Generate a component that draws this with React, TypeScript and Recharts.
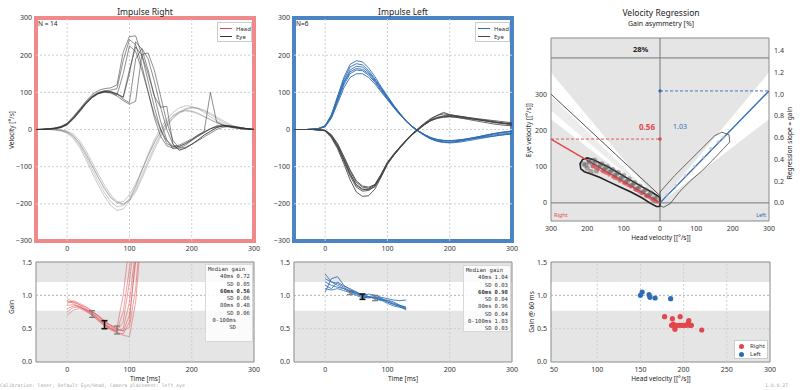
import React from "react";
import {
  Area,
  ComposedChart,
  ErrorBar,
  Line,
  ReferenceArea,
  ReferenceLine,
  Scatter,
  XAxis,
  YAxis,
} from "recharts";

const FONT = '"Noto Sans", "Open Sans", sans-serif';
const MONO = '"DejaVu Sans Mono", monospace';
const RED = "#e2474b";
const BLUE = "#2e6cb4";
const BG = "#e5e5e5";
const GRID = "#cfcfcf";
const FRAME = "#8a8a8a";

// time axis of the impulse traces [ms]
const timeMs = [-50, -40, -30, -20, -10, 0, 10, 20, 30, 40, 50, 60, 70, 80, 90, 100, 110, 120, 130, 140, 150, 160, 170, 180, 190, 200, 210, 220, 230, 240, 250, 260, 270, 280, 290, 300];

// impulse right: head (negative) and eye velocity [deg/s]
const rightHead = [
  [0, 0, 0, 0, -2, -6, -16, -36, -64, -96, -128, -158, -182, -196, -194, -176, -146, -108, -70, -35, -5, 20, 38, 48, 52, 50, 44, 36, 27, 19, 12, 7, 4, 2, 1, 0],
  [0, 0, 0, -1, -3, -8, -20, -42, -72, -106, -140, -170, -194, -208, -205, -186, -152, -112, -72, -36, -6, 18, 36, 46, 50, 48, 42, 34, 26, 18, 11, 6, 3, 1, 0, 0],
  [0, 0, 0, 0, -1, -4, -12, -30, -56, -88, -120, -150, -176, -194, -200, -192, -168, -132, -92, -54, -20, 8, 30, 44, 54, 58, 56, 50, 40, 30, 20, 12, 6, 3, 1, 0],
  [0, 0, 0, -1, -4, -10, -24, -48, -80, -116, -150, -180, -204, -218, -214, -192, -154, -110, -66, -28, 4, 28, 46, 58, 64, 62, 56, 46, 34, 24, 15, 8, 4, 2, 0, 0],
  [0, 0, 0, 0, -2, -7, -18, -38, -66, -98, -130, -160, -184, -198, -202, -190, -162, -124, -84, -46, -14, 12, 32, 46, 56, 60, 58, 52, 44, 34, 24, 15, 8, 4, 2, 0],
];
const rightEye = [
  [0, 1, 2, 4, 8, 15, 32, 52, 72, 88, 98, 104, 106, 110, 185, 242, 228, 172, 102, 32, -18, -44, -50, -46, -38, -28, -18, -8, 2, 8, 10, 9, 7, 4, 2, 0],
  [0, 0, 1, 3, 6, 14, 30, 50, 70, 86, 97, 102, 102, 96, 86, 150, 236, 216, 160, 90, 22, -28, -52, -50, -42, -30, -18, -8, 2, 10, 12, 10, 7, 4, 2, 0],
  [0, 1, 2, 3, 7, 16, 33, 53, 73, 90, 100, 104, 102, 96, 82, 72, 190, 218, 190, 130, 60, 0, -40, -56, -50, -40, -28, -15, -5, 5, 10, 10, 8, 5, 2, 0],
  [0, 0, 1, 2, 5, 12, 28, 47, 68, 85, 96, 100, 98, 90, 78, 68, 76, 202, 206, 160, 90, 20, -30, -50, -48, -40, -30, -20, -10, 0, 6, 8, 6, 4, 2, 0],
  [0, 1, 2, 4, 8, 17, 35, 55, 76, 94, 105, 110, 112, 120, 208, 250, 252, 200, 130, 60, 0, -38, -46, -42, -34, -25, -15, -6, 2, 7, 9, 8, 6, 4, 2, 0],
  [0, 0, 1, 3, 6, 14, 30, 50, 70, 88, 98, 102, 100, 92, 150, 225, 210, 160, 100, 40, 0, -30, -45, -45, -38, -28, -15, -5, 100, 20, 12, 8, 5, 2, 1, 0],
  [0, 0, 1, 2, 5, 13, 29, 49, 70, 87, 97, 101, 100, 95, 88, 160, 222, 200, 150, 90, 60, 62, -40, -55, -50, -40, -28, -15, -5, 5, 10, 8, 5, 2, 1, 0],
];

// impulse left: head (positive) and eye velocity [deg/s]
const leftHead = [
  [0, 0, 0, 1, 3, 10, 40, 90, 140, 175, 185, 182, 165, 142, 115, 90, 66, 44, 24, 8, -4, -15, -24, -30, -33, -34, -33, -30, -27, -24, -20, -16, -12, -9, -6, -4],
  [0, 0, 0, 1, 3, 9, 36, 82, 128, 160, 170, 168, 154, 133, 110, 86, 63, 42, 23, 8, -4, -14, -22, -27, -30, -30, -29, -27, -24, -21, -18, -15, -12, -10, -8, -6],
  [0, 0, 0, 1, 2, 8, 33, 76, 120, 150, 160, 158, 146, 127, 104, 82, 60, 40, 22, 7, -5, -15, -23, -28, -30, -31, -30, -28, -26, -24, -22, -20, -18, -16, -14, -12],
  [0, 0, 0, 1, 2, 7, 30, 70, 112, 140, 150, 150, 140, 122, 101, 80, 59, 40, 22, 8, -4, -14, -22, -27, -29, -30, -29, -27, -25, -22, -20, -18, -15, -13, -11, -10],
  [0, 0, 0, 1, 3, 9, 35, 80, 125, 155, 164, 162, 150, 130, 107, 84, 62, 41, 22, 6, -6, -17, -26, -32, -35, -36, -35, -33, -30, -27, -24, -21, -18, -15, -13, -11],
  [0, 0, 0, 1, 3, 10, 38, 86, 134, 168, 177, 174, 158, 136, 112, 88, 64, 43, 23, 7, -5, -16, -25, -31, -34, -35, -33, -30, -26, -22, -18, -14, -11, -8, -6, -5],
];
const leftEye = [
  [0, 0, 0, 0, -1, -3, -18, -45, -82, -120, -148, -160, -162, -154, -125, -92, -70, -50, -31, -14, 0, 13, 24, 31, 35, 36, 35, 33, 30, 28, 26, 24, 21, 18, 16, 14],
  [0, 0, 0, 0, -1, -2, -15, -40, -76, -112, -142, -155, -158, -150, -122, -90, -68, -48, -30, -13, 2, 16, 28, 38, 46, 40, 37, 34, 31, 28, 25, 22, 19, 17, 15, 13],
  [0, 0, 0, 0, -1, -4, -22, -52, -92, -135, -168, -180, -178, -160, -128, -94, -70, -50, -31, -14, 1, 14, 26, 33, 37, 38, 36, 34, 32, 30, 28, 26, 24, 22, 20, 18],
  [0, 0, 0, 0, -1, -2, -14, -38, -72, -108, -138, -152, -155, -148, -120, -88, -66, -47, -29, -12, 2, 15, 25, 31, 34, 35, 33, 30, 27, 24, 21, 18, 15, 13, 11, 10],
  [0, 0, 0, 0, -1, -3, -20, -48, -86, -125, -155, -166, -164, -152, -124, -91, -69, -49, -30, -13, 1, 14, 24, 30, 33, 34, 33, 31, 29, 27, 25, 23, 21, 19, 17, 15],
  [0, 0, 0, 0, -1, -3, -17, -44, -80, -118, -150, -162, -160, -148, -121, -89, -67, -47, -28, -11, 4, 18, 30, 38, 42, 40, 37, 35, 32, 29, 26, 23, 20, 18, 16, 14],
];

// gain traces
const gainTimeRight = [0, 10, 20, 30, 40, 50, 60, 70, 80, 90, 100, 110, 120];
const gainRight = [
  [0.95, 0.9, 0.86, 0.8, 0.74, 0.66, 0.58, 0.52, 0.48, 0.75, 1.4, 2.2, 3.0],
  [0.8, 0.84, 0.84, 0.78, 0.72, 0.64, 0.56, 0.5, 0.46, 0.5, 0.9, 1.7, 2.6],
  [0.7, 0.78, 0.8, 0.76, 0.7, 0.62, 0.55, 0.5, 0.44, 0.42, 0.6, 1.6, 2.4],
  [0.9, 0.9, 0.86, 0.82, 0.76, 0.68, 0.6, 0.55, 0.52, 1.0, 1.8, 2.5, 3.0],
  [0.75, 0.82, 0.82, 0.77, 0.71, 0.62, 0.54, 0.48, 0.44, 0.4, 0.38, 0.9, 2.0],
  [0.85, 0.86, 0.83, 0.79, 0.73, 0.65, 0.57, 0.5, 0.47, 0.6, 1.2, 2.0, 2.8],
  [0.92, 0.88, 0.82, 0.78, 0.75, 0.7, 0.62, 0.55, 0.5, 0.46, 0.7, 1.5, 2.4],
  [0.88, 0.92, 0.88, 0.83, 0.77, 0.69, 0.61, 0.54, 0.49, 0.47, 0.52, 1.1, 2.2],
];
const gainTimeLeft = [0, 10, 20, 30, 40, 50, 60, 70, 80, 90, 100, 110, 120, 130];
const gainLeft = [
  [1.32, 1.2, 1.18, 1.12, 1.06, 1.02, 0.99, 0.97, 0.96, 0.94, 0.9, 0.86, 0.84, 0.8],
  [1.05, 1.25, 1.28, 1.15, 1.08, 1.04, 1.0, 0.98, 0.97, 0.95, 0.92, 0.88, 0.85, 0.82],
  [1.2, 1.15, 1.12, 1.1, 1.05, 1.03, 0.97, 0.96, 0.98, 0.96, 0.9, 0.87, 0.83, 0.78],
  [1.1, 1.08, 1.1, 1.07, 1.04, 1.0, 0.96, 0.98, 0.95, 0.92, 0.93, 0.9, 0.85, 0.82],
  [1.25, 1.2, 1.15, 1.1, 1.06, 1.05, 1.0, 1.02, 1.0, 0.97, 0.95, 0.93, 0.92, 0.93],
  [1.15, 1.1, 1.2, 1.14, 1.1, 1.05, 1.0, 0.98, 0.96, 0.93, 0.88, 0.84, 0.82, 0.8],
];
const sampleTimes = [40, 60, 80];
const medianRight = [0.72, 0.56, 0.48];
const sdRight = [0.05, 0.06, 0.06];
const medianLeft = [1.04, 0.98, 0.96];
const sdLeft = [0.03, 0.04, 0.04];
const normGain = [0.77, 1.2];

// velocity regression
const slopeRight = 0.587;
const slopeLeft = 1.03;
const asymmetry = -28;
const refLineX = [-300, 0];
const refLineY = [300, 20];
const contourRightX = [0, 0, -20, -50, -80, -110, -140, -165, -185, -200, -213, -220, -218, -208, -190, -165, -140, -110, -80, -50, -25, -10, 0];
const contourRightY = [-10, 15, 28, 45, 62, 80, 98, 110, 120, 124, 120, 108, 94, 86, 80, 70, 58, 44, 30, 14, -2, -10, -10];
const contourLeftX = [0, 0, 40, 80, 120, 150, 170, 190, 192, 175, 145, 115, 85, 55, 28, 10, 0];
const contourLeftY = [-8, 30, 75, 115, 155, 185, 195, 188, 168, 150, 118, 88, 62, 32, -2, -12, -8];
const cloudGrayX = [-15, -30, -45, -60, -75, -90, -105, -120, -135, -150, -165, -180, -195, -205, -200, -185, -170, -155, -140, -125, -110, -95, -80, -65, -50, -35, -20, -210, -195, -180, -160, -145, -130, -115, -100, -85, -70, -55, -40, -25, -10, -175, -190];
const cloudGrayY = [14, 22, 32, 40, 50, 60, 70, 78, 88, 96, 104, 110, 112, 104, 96, 104, 98, 92, 84, 76, 66, 58, 48, 38, 28, 20, 10, 108, 116, 118, 108, 100, 92, 84, 76, 66, 56, 46, 36, 26, 12, 88, 86];
const cloudRedX = [-8, -20, -35, -50, -65, -80, -95, -110, -125, -140, -155, -170, -185, -15, -40, -70, -100, -130, -160, -28, -58, -88, -118, -148, -178];
const cloudRedY = [3, 10, 18, 27, 35, 44, 52, 60, 68, 77, 85, 92, 100, 5, 20, 38, 55, 72, 88, 14, 31, 48, 66, 82, 97];
const cloudLeftX = [20, 45, 70, 95, 120, 140, 160, 175];
const cloudLeftY = [22, 48, 75, 100, 125, 150, 168, 180];

// gain @ 60 ms vs head velocity
const scatterRightVel = [178, 187, 196, 186, 188, 190, 190, 192, 195, 198, 200, 203, 205, 206, 207, 209, 221];
const scatterRightGain = [0.68, 0.65, 0.68, 0.55, 0.57, 0.52, 0.49, 0.55, 0.55, 0.55, 0.55, 0.55, 0.58, 0.62, 0.55, 0.55, 0.48];
const scatterLeftVel = [150, 152, 160, 161, 167, 185];
const scatterLeftGain = [1.0, 1.05, 1.01, 0.97, 0.96, 0.95];

const tableRight = [
  ["40ms", "0.72"], ["SD", "0.05"], ["60ms", "0.56"], ["SD", "0.06"], ["80ms", "0.48"], ["SD", "0.06"], ["0-100ms", ""], ["SD", ""],
];
const tableLeft = [
  ["40ms", "1.04"], ["SD", "0.03"], ["60ms", "0.98"], ["SD", "0.04"], ["80ms", "0.96"], ["SD", "0.04"], ["0-100ms", "1.03"], ["SD", "0.03"],
];

function toRows(xs: number[], series: number[][], prefix: string, rows: any[] = []) {
  xs.forEach((x, i) => {
    const r = rows[i] || { t: x };
    series.forEach((s, k) => (r[prefix + k] = s[i]));
    rows[i] = r;
  });
  return rows;
}
const pairs = (xs: number[], ys: number[]) => xs.map((x, i) => ({ x, y: ys[i] }));

const tick = { fontSize: 7, fill: "#333", fontFamily: FONT };
const minus = (v: number) => String(v).replace("-", "\u2212");

function Txt({ x, y, children, size = 7, color = "#222", anchor = "middle", rotate = 0, weight = 400, family = FONT }: any) {
  const tx = anchor === "middle" ? "-50%" : anchor === "end" ? "-100%" : "0";
  return (
    <div
      style={{
        position: "absolute", left: x, top: y, transform: `translate(${tx}, -50%) rotate(${rotate}deg)`,
        fontSize: size, color, fontWeight: weight, fontFamily: family, whiteSpace: "nowrap", lineHeight: 1,
      }}
    >
      {children}
    </div>
  );
}

function LineLegend({ left, items }: { left: number; items: [string, string][] }) {
  return (
    <div style={{ position: "absolute", left, top: 22, width: 35, height: 20, background: "#fff", border: "1px solid #ccc", boxSizing: "border-box", fontFamily: FONT, fontSize: 6 }}>
      {items.map(([label, color], i) => (
        <div key={label} style={{ position: "absolute", left: 2, top: 2 + i * 8, display: "flex", alignItems: "center", height: 7 }}>
          <div style={{ width: 12, height: 1, background: color, marginRight: 4 }} />
          <span style={{ color: "#333" }}>{label}</span>
        </div>
      ))}
    </div>
  );
}

function MedianTable({ left, top, height, rows }: { left: number; top: number; height: number; rows: string[][] }) {
  return (
    <div style={{ position: "absolute", left, top, width: 48, height, background: "rgba(255,255,255,0.85)", border: "1px solid #d8d8d8", boxSizing: "border-box", fontFamily: MONO, fontSize: 5.6, color: "#333", lineHeight: "7.3px", padding: "1px 2px" }}>
      <div>Median gain</div>
      {rows.map(([a, b], i) => (
        <div key={i} style={{ display: "flex", fontWeight: a === "60ms" ? 700 : 400 }}>
          <span style={{ width: 28, textAlign: "right" }}>{a}</span>
          <span style={{ marginLeft: 3 }}>{b}</span>
        </div>
      ))}
    </div>
  );
}

function ImpulsePanel({ left, rows, nHead, nEye, headColor, headOpacity, eyeColor, eyeOpacity, border }: any) {
  return (
    <div style={{ position: "absolute", left, top: 0 }}>
      <ComposedChart width={262} height={253} data={rows} margin={{ top: 18, right: 8, bottom: 0, left: 0 }}>
        <XAxis dataKey="t" type="number" domain={[-50, 300]} ticks={[0, 100, 200, 300]} allowDataOverflow axisLine={false} tickLine={false} tick={tick} tickSize={3} tickMargin={2} height={12} interval={0} />
        <YAxis type="number" domain={[-300, 300]} ticks={[-300, -200, -100, 0, 100, 200, 300]} allowDataOverflow axisLine={false} tickLine={false} tick={tick} tickFormatter={minus} width={36} tickSize={3} tickMargin={1} interval={0} />
        {[0, 100, 200].map((v) => <ReferenceLine key={"gx" + v} x={v} stroke={GRID} strokeDasharray="2 2" />)}
        {[-200, -100, 0, 100, 200].map((v) => <ReferenceLine key={"gy" + v} y={v} stroke={GRID} strokeDasharray="2 2" />)}
        {Array.from({ length: nHead }, (_, k) => (
          <Line key={"h" + k} dataKey={"h" + k} type="linear" stroke={headColor} strokeOpacity={headOpacity} strokeWidth={1} dot={false} isAnimationActive={false} />
        ))}
        {Array.from({ length: nEye }, (_, k) => (
          <Line key={"e" + k} dataKey={"e" + k} type="linear" stroke={eyeColor} strokeOpacity={eyeOpacity} strokeWidth={1} dot={false} isAnimationActive={false} />
        ))}
        <ReferenceArea x1={-50} x2={300} y1={-300} y2={300} fill="none" stroke={border} strokeWidth={4} />
      </ComposedChart>
    </div>
  );
}

function GainPanel({ left, rows, n, color, opacity, medians, sds }: any) {
  const bars = sampleTimes.map((t, i) => ({ t, y: medians[i], err: sds[i] }));
  return (
    <div style={{ position: "absolute", left, top: 258 }}>
      <ComposedChart width={262} height={116} data={rows} margin={{ top: 4, right: 8, bottom: 0, left: 0 }}>
        <XAxis dataKey="t" type="number" domain={[-50, 300]} ticks={[0, 100, 200, 300]} allowDataOverflow axisLine={false} tickLine={false} tick={tick} tickSize={3} tickMargin={2} height={12} interval={0} />
        <YAxis type="number" domain={[0, 1.5]} ticks={[0, 0.5, 1, 1.5]} allowDataOverflow axisLine={false} tickLine={false} tick={tick} tickFormatter={(v: number) => v.toFixed(1)} width={36} tickSize={3} tickMargin={1} interval={0} />
        <ReferenceArea y1={0} y2={normGain[0]} fill={BG} fillOpacity={1} stroke="none" />
        <ReferenceArea y1={normGain[1]} y2={1.5} fill={BG} fillOpacity={1} stroke="none" />
        {[0, 100, 200].map((v) => <ReferenceLine key={"gx" + v} x={v} stroke={GRID} strokeDasharray="2 2" />)}
        <ReferenceLine y={0.5} stroke={GRID} strokeDasharray="2 2" />
        <ReferenceLine y={1} stroke="#b0b0b0" strokeDasharray="2 2" />
        {Array.from({ length: n }, (_, k) => (
          <Line key={"g" + k} dataKey={"g" + k} type="linear" stroke={color} strokeOpacity={opacity} strokeWidth={1} dot={false} isAnimationActive={false} />
        ))}
        {bars.map((b, i) => (
          <Scatter key={"eb" + i} data={[b]} dataKey="y" shape={() => <g />} isAnimationActive={false}>
            <ErrorBar dataKey="err" direction="y" width={3} stroke={i === 1 ? "#111" : "#777"} strokeWidth={i === 1 ? 1.6 : 1.2} />
          </Scatter>
        ))}
        <ReferenceArea x1={-50} x2={300} y1={0} y2={1.5} fill="none" stroke={FRAME} strokeWidth={1} />
      </ComposedChart>
    </div>
  );
}

function RegressionPanel() {
  const wedgeRight = [
    { x: -300, range: [300 * normGain[0], 300 * normGain[1]] },
    { x: 0, range: [0, 0] },
  ];
  const wedgeRightInner = [
    { x: -300, range: [255, 295] },
    { x: 0, range: [0, 0] },
  ];
  const wedgeLeft = [
    { x: 0, range: [0, 0] },
    { x: 300, range: [300 * normGain[0], 300 * normGain[1]] },
  ];
  const fitRight = pairs([0, -300], [0, 300 * slopeRight]);
  const fitLeft = pairs([0, 300], [0, 300 * slopeLeft]);
  return (
    <div style={{ position: "absolute", left: 521, top: 0 }}>
      <ComposedChart width={273} height={233} margin={{ top: 24, right: 0, bottom: 0, left: 0 }}>
        <XAxis dataKey="x" type="number" domain={[-300, 300]} ticks={[-300, -200, -100, 0, 100, 200, 300]} allowDataOverflow axisLine={false} tickLine={false} tick={tick} tickFormatter={(v: number) => String(Math.abs(v))} tickSize={3} tickMargin={2} height={12} interval={0} />
        <XAxis xAxisId="a" orientation="top" type="number" domain={[-100, 100]} ticks={[-100, -75, -50, -25, 0, 25, 50, 75, 100]} allowDataOverflow axisLine={false} tickLine={false} tick={tick} tickFormatter={minus} tickSize={3} tickMargin={2} height={14} interval={0} />
        <YAxis type="number" domain={[-50, 455]} ticks={[0, 100, 200, 300]} allowDataOverflow axisLine={false} tickLine={false} tick={tick} width={30} tickSize={3} tickMargin={1} interval={0} />
        <YAxis yAxisId="g" orientation="right" type="number" domain={[-50 / 300, 455 / 300]} ticks={[0, 0.2, 0.4, 0.6, 0.8, 1.0, 1.2, 1.4]} allowDataOverflow axisLine={false} tickLine={false} tick={tick} tickFormatter={(v: number) => v.toFixed(1)} width={25} tickSize={3} tickMargin={2} interval={0} />
        <ReferenceArea x1={-300} x2={300} y1={-50} y2={455} fill={BG} fillOpacity={1} stroke="none" />
        <Area data={wedgeRight} dataKey="range" type="linear" stroke="none" fill="#fff" fillOpacity={1} isAnimationActive={false} />
        <Area data={wedgeRightInner} dataKey="range" type="linear" stroke="none" fill="#ececec" fillOpacity={1} isAnimationActive={false} />
        <Area data={wedgeLeft} dataKey="range" type="linear" stroke="none" fill="#fff" fillOpacity={1} isAnimationActive={false} />
        <ReferenceLine x={0} stroke="#777" />
        <ReferenceLine y={0} stroke="#777" />
        <ReferenceLine y={400} stroke="#777" />
        <ReferenceLine xAxisId="a" segment={[{ x: asymmetry, y: 400 }, { x: asymmetry, y: 455 }]} stroke="#222" strokeWidth={2} />
        <Line data={pairs(refLineX, refLineY)} dataKey="y" type="linear" stroke="#555" strokeWidth={1} dot={false} isAnimationActive={false} />
        <Scatter data={pairs(cloudGrayX, cloudGrayY)} dataKey="y" shape={(p: any) => <circle cx={p.cx} cy={p.cy} r={2.6} fill="#555" fillOpacity={0.45} />} isAnimationActive={false} />
        <Scatter data={pairs(cloudLeftX, cloudLeftY)} dataKey="y" shape={(p: any) => <circle cx={p.cx} cy={p.cy} r={1.8} fill="#bbb" fillOpacity={0.6} />} isAnimationActive={false} />
        <Line data={pairs(contourRightX, contourRightY)} dataKey="y" type="linear" stroke="#222" strokeWidth={1.6} dot={false} isAnimationActive={false} />
        <Line data={pairs(contourLeftX, contourLeftY)} dataKey="y" type="linear" stroke="#444" strokeWidth={0.8} dot={false} isAnimationActive={false} />
        <Scatter data={pairs(cloudRedX, cloudRedY)} dataKey="y" shape={(p: any) => <circle cx={p.cx} cy={p.cy} r={1.8} fill={RED} fillOpacity={0.7} />} isAnimationActive={false} />
        <ReferenceLine segment={[{ x: -300, y: 300 * slopeRight }, { x: 0, y: 300 * slopeRight }]} stroke={RED} strokeDasharray="3 2" strokeWidth={0.9} />
        <ReferenceLine segment={[{ x: 0, y: 300 * slopeLeft }, { x: 300, y: 300 * slopeLeft }]} stroke={BLUE} strokeDasharray="3 2" strokeWidth={0.9} />
        <Line data={fitRight} dataKey="y" type="linear" stroke={RED} strokeWidth={1.4} dot={false} isAnimationActive={false} />
        <Line data={fitLeft} dataKey="y" type="linear" stroke={BLUE} strokeWidth={1.4} dot={false} isAnimationActive={false} />
        <Scatter data={[{ x: 0, y: 300 * slopeRight }]} dataKey="y" shape={(p: any) => <circle cx={p.cx} cy={p.cy} r={1.8} fill={RED} />} isAnimationActive={false} />
        <Scatter data={[{ x: 0, y: 300 * slopeLeft }]} dataKey="y" shape={(p: any) => <circle cx={p.cx} cy={p.cy} r={1.6} fill={BLUE} />} isAnimationActive={false} />
        <ReferenceArea x1={-300} x2={300} y1={-50} y2={455} fill="none" stroke={FRAME} strokeWidth={1} />
      </ComposedChart>
    </div>
  );
}

function ScatterPanel() {
  return (
    <div style={{ position: "absolute", left: 521, top: 258 }}>
      <ComposedChart width={262} height={116} margin={{ top: 4, right: 13, bottom: 0, left: 0 }}>
        <XAxis dataKey="x" type="number" domain={[46.5, 300]} ticks={[50, 100, 150, 200, 250, 300]} allowDataOverflow axisLine={false} tickLine={false} tick={tick} tickSize={3} tickMargin={2} height={12} interval={0} />
        <YAxis type="number" domain={[0, 1.5]} ticks={[0, 0.5, 1, 1.5]} allowDataOverflow axisLine={false} tickLine={false} tick={tick} tickFormatter={(v: number) => v.toFixed(1)} width={30} tickSize={3} tickMargin={1} interval={0} />
        <ReferenceArea y1={0} y2={normGain[0]} fill={BG} fillOpacity={1} stroke="none" />
        <ReferenceArea y1={normGain[1]} y2={1.5} fill={BG} fillOpacity={1} stroke="none" />
        {[100, 150, 200, 250].map((v) => <ReferenceLine key={"gx" + v} x={v} stroke={GRID} strokeDasharray="2 2" />)}
        <ReferenceLine y={0.5} stroke={GRID} strokeDasharray="2 2" />
        <ReferenceLine y={1} stroke="#b0b0b0" strokeDasharray="2 2" />
        <Scatter name="Right" data={pairs(scatterRightVel, scatterRightGain)} dataKey="y" shape={(p: any) => <circle cx={p.cx} cy={p.cy} r={2.6} fill={RED} />} isAnimationActive={false} />
        <Scatter name="Left" data={pairs(scatterLeftVel, scatterLeftGain)} dataKey="y" shape={(p: any) => <circle cx={p.cx} cy={p.cy} r={2.6} fill={BLUE} />} isAnimationActive={false} />
        <ReferenceArea x1={46.5} x2={300} y1={0} y2={1.5} fill="none" stroke={FRAME} strokeWidth={1} />
      </ComposedChart>
    </div>
  );
}

export default function App() {
  const rightRows = toRows(timeMs, rightEye, "e", toRows(timeMs, rightHead, "h"));
  const leftRows = toRows(timeMs, leftEye, "e", toRows(timeMs, leftHead, "h"));
  const gainRightRows = toRows(gainTimeRight, gainRight, "g");
  const gainLeftRows = toRows(gainTimeLeft, gainLeft, "g");
  return (
    <div style={{ position: "absolute", left: 0, top: 0, width: 800, height: 390, background: "#fff", overflow: "hidden", fontFamily: FONT }}>
      <ImpulsePanel left={0} rows={rightRows} nHead={rightHead.length} nEye={rightEye.length} headColor="#888" headOpacity={0.45} eyeColor="#333" eyeOpacity={0.55} border="#f08a8a" />
      <ImpulsePanel left={258} rows={leftRows} nHead={leftHead.length} nEye={leftEye.length} headColor={BLUE} headOpacity={0.9} eyeColor="#444" eyeOpacity={0.85} border="#4a84c4" />
      <RegressionPanel />
      <GainPanel left={0} rows={gainRightRows} n={gainRight.length} color={RED} opacity={0.5} medians={medianRight} sds={sdRight} />
      <GainPanel left={258} rows={gainLeftRows} n={gainLeft.length} color={BLUE} opacity={0.85} medians={medianLeft} sds={sdLeft} />
      <ScatterPanel />

      <Txt x={145} y={12} size={8.5}>Impulse Right</Txt>
      <Txt x={403} y={12} size={8.5}>Impulse Left</Txt>
      <Txt x={661} y={13} size={8.5}>Velocity Regression</Txt>
      <Txt x={661} y={23} size={7}>Gain asymmetry [%]</Txt>
      <Txt x={38} y={24} size={6.5} anchor="start">N = 14</Txt>
      <Txt x={296} y={24} size={6.5} anchor="start">N=6</Txt>
      <LineLegend left={217} items={[["Head", RED], ["Eye", "#333"]]} />
      <LineLegend left={475} items={[["Head", BLUE], ["Eye", "#444"]]} />

      <Txt x={12} y={130} size={6.5} rotate={-90}>Velocity [°/s]</Txt>
      <Txt x={12} y={307} size={6.5} rotate={-90}>Gain</Txt>
      <Txt x={529} y={130} size={6.5} rotate={-90}>Eye velocity [[°/s]]</Txt>
      <Txt x={790} y={143} size={6.5} rotate={-90}>Regression slope = gain</Txt>
      <Txt x={532} y={312} size={6.5} rotate={-90}>Gain @ 60 ms</Txt>
      <Txt x={661} y={238} size={6.5}>Head velocity [[°/s]]</Txt>
      <Txt x={661} y={379} size={6.5}>Head velocity [[°/s]]</Txt>
      <Txt x={145} y={379} size={6.5}>Time [ms]</Txt>
      <Txt x={403} y={379} size={6.5}>Time [ms]</Txt>

      <Txt x={633} y={50} size={7.5} weight={700} anchor="start">28%</Txt>
      <Txt x={655} y={127} size={8} weight={700} color={RED} anchor="end">0.56</Txt>
      <Txt x={673} y={126} size={7} color={BLUE} anchor="start">1.03</Txt>
      <Txt x={554} y={216} size={5.5} color={RED} anchor="start">Right</Txt>
      <Txt x={766} y={216} size={5.5} color={BLUE} anchor="end">Left</Txt>

      <MedianTable left={205} top={264} height={78} rows={tableRight} />
      <MedianTable left={463} top={265} height={67} rows={tableLeft} />

      <div style={{ position: "absolute", left: 734, top: 340, width: 34, height: 19, background: "#fff", border: "1px solid #ccc", boxSizing: "border-box", fontFamily: FONT, fontSize: 6, color: "#333" }}>
        {[["Right", RED], ["Left", BLUE]].map(([label, c], i) => (
          <div key={label} style={{ position: "absolute", left: 4, top: 1 + i * 8, display: "flex", alignItems: "center", height: 8 }}>
            <div style={{ width: 5, height: 5, borderRadius: 3, background: c, marginRight: 6 }} />
            <span>{label}</span>
          </div>
        ))}
      </div>

      <Txt x={0} y={386} size={4.8} color="#aaa" anchor="start" family={MONO}>Calibration: laser, Default Eye/Head, Camera placement: left eye</Txt>
      <Txt x={788} y={386} size={4.8} color="#aaa" anchor="end" family={MONO}>1.0.0.27</Txt>
    </div>
  );
}
